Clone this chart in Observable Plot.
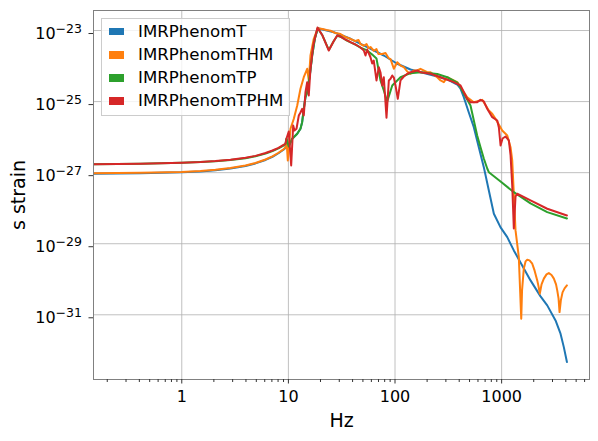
<!DOCTYPE html>
<html>
<head>
<meta charset="utf-8">
<script src="https://cdn.jsdelivr.net/npm/d3@7"></script>
<script src="https://cdn.jsdelivr.net/npm/@observablehq/plot@0.6"></script>
<style>
  body { margin: 0; background: #fff; }
  #wrap { position: relative; width: 598px; height: 441px; font-family: "DejaVu Sans", sans-serif; }
  #legend { position: absolute; left: 101px; top: 18px; width: 189px; height: 98px; box-sizing: border-box;
            border: 1px solid #cccccc; background: rgba(255,255,255,0.8); }
  .row { position: absolute; left: 0; height: 20px; font-size: 16.6px; color: #000; white-space: nowrap; }
  .sw { position: absolute; left: 7px; top: 6.25px; width: 15px; height: 7.5px; }
  .lab { position: absolute; left: 36px; top: 0; line-height: 20px; }
</style>
</head>
<body>
<div id="wrap"></div>
<script>
// ---- data ----
const seriesNames = ["IMRPhenomT", "IMRPhenomTHM", "IMRPhenomTP", "IMRPhenomTPHM"];
const seriesColors = ["#1f77b4", "#ff7f0e", "#2ca02c", "#d62728"];

const freqT = [0.149, 0.41, 1.0, 1.5, 2.07, 2.86, 3.96, 4.91, 6.10, 7.09, 8.07, 8.99, 9.39, 9.60, 10.08, 10.86, 12.10, 12.98, 13.46, 13.94, 14.46, 15.00, 15.87, 16.71, 17.69, 18.87, 26.66, 38.27, 54.83, 78.5, 104.9, 139.8, 186.3, 248.9, 308.9, 383.3, 411.4, 441.6, 492.2, 548.3, 610.7, 680.5, 758.6, 845.6, 977.2, 1129, 1301, 1503, 1866, 2317, 2677, 3203, 3568, 3831, 4096];
const strainT = [9.31e-28, 9.62e-28, 1.02e-27, 1.08e-27, 1.17e-27, 1.31e-27, 1.54e-27, 1.82e-27, 2.28e-27, 2.80e-27, 3.52e-27, 4.41e-27, 4.95e-27, 8.59e-27, 5.46e-27, 8.99e-27, 1.24e-26, 1.72e-26, 2.64e-26, 6.27e-26, 1.33e-25, 1.84e-25, 5.42e-25, 1.98e-24, 5.85e-24, 1.16e-23, 8.95e-24, 5.85e-24, 3.39e-24, 1.98e-24, 1.16e-24, 8.0e-25, 6.38e-25, 5.08e-25, 4.19e-25, 3.03e-25, 2.33e-25, 1.33e-25, 4.93e-26, 1.91e-26, 5.21e-27, 1.43e-27, 3.15e-28, 6.98e-29, 2.88e-29, 1.53e-29, 6.49e-30, 2.98e-30, 9.29e-31, 3.30e-31, 1.84e-31, 6.95e-32, 2.94e-32, 1.23e-32, 4.67e-33];

const freqTHM = [0.149, 0.41, 1.0, 1.5, 2.07, 2.86, 3.96, 4.91, 6.10, 7.09, 8.07, 8.99, 9.39, 9.60, 9.87, 10.46, 11.24, 12.10, 12.98, 13.94, 15.00, 15.53, 16.11, 17.30, 18.87, 20.89, 22.77, 24.83, 27.66, 30.82, 34.34, 38.27, 42.58, 45.46, 47.45, 50.96, 54.03, 56.41, 58.88, 63.2, 67.0, 70.0, 75.8, 81.45, 86.9, 90.8, 97.5, 104.9, 112.6, 121.0, 130.2, 139.8, 149.1, 161.4, 173.4, 200.5, 215.3, 248.9, 267.2, 287.0, 308.9, 331.6, 383.3, 475.6, 548.3, 657.7, 758.6, 816.5, 876.6, 1013, 1129, 1212, 1257, 1301, 1350, 1449, 1527, 1554, 1615, 1676, 1739, 1827, 1937, 2036, 2158, 2219, 2282, 2368, 2488, 2637, 2772, 2938, 3090, 3238, 3323, 3418, 3493, 3592, 3727, 3892, 4096];
const strainTHM = [9.6e-28, 9.9e-28, 1.05e-27, 1.11e-27, 1.21e-27, 1.35e-27, 1.59e-27, 1.87e-27, 2.35e-27, 2.88e-27, 3.63e-27, 4.54e-27, 5.10e-27, 8.59e-27, 2.20e-27, 1.72e-26, 3.28e-26, 7.76e-26, 2.29e-25, 4.85e-25, 8.37e-25, 3.93e-25, 1.98e-24, 5.85e-24, 1.16e-23, 1.10e-23, 1.03e-23, 9.85e-24, 8.48e-24, 7.95e-24, 6.56e-24, 5.76e-24, 5.05e-24, 5.40e-24, 4.16e-24, 3.73e-24, 4.16e-24, 3.21e-24, 3.43e-24, 2.70e-24, 3.01e-24, 2.18e-24, 2.18e-24, 2.32e-24, 1.68e-24, 1.57e-24, 8.37e-25, 1.28e-24, 1.035e-24, 9.29e-25, 7.03e-25, 6.05e-25, 7.50e-25, 7.50e-25, 8.37e-25, 6.71e-25, 6.71e-25, 4.85e-25, 3.93e-25, 3.52e-25, 4.85e-25, 4.38e-25, 3.52e-25, 1.33e-25, 9.62e-26, 1.12e-25, 5.62e-26, 4.54e-26, 3.28e-26, 1.54e-26, 1.11e-26, 5.21e-27, 2.20e-27, 2.60e-28, 2.37e-29, 4.20e-30, 7.76e-32, 4.85e-31, 2.02e-30, 3.18e-30, 3.55e-30, 3.39e-30, 2.74e-30, 1.77e-30, 9.29e-31, 6.30e-31, 3.93e-31, 7.16e-31, 1.04e-30, 1.37e-30, 1.49e-30, 1.32e-30, 1.04e-30, 7.16e-31, 4.85e-31, 2.89e-31, 1.19e-31, 2.54e-31, 4.27e-31, 5.53e-31, 6.71e-31];

const freqTP = [0.149, 0.41, 1.0, 1.5, 2.07, 2.86, 3.96, 4.91, 6.10, 7.09, 8.07, 8.99, 9.39, 9.60, 10.08, 10.86, 12.10, 12.98, 13.46, 13.94, 14.46, 15.00, 15.87, 16.71, 17.69, 18.87, 20.89, 23.93, 26.5, 28.70, 30.82, 34.34, 38.27, 42.58, 47.45, 54.83, 61.1, 67.0, 73.1, 78.5, 84.5, 94.2, 112.6, 139.8, 173.4, 248.9, 308.9, 383.3, 411.4, 441.6, 510.5, 589.7, 633.9, 680.5, 732.5, 758.6, 977.2, 1301, 1866, 2677, 4096];
const strainTP = [1.73e-27, 1.78e-27, 1.89e-27, 1.98e-27, 2.09e-27, 2.27e-27, 2.55e-27, 2.88e-27, 3.44e-27, 4.06e-27, 4.83e-27, 5.80e-27, 6.40e-27, 9.2e-27, 5.46e-27, 8.99e-27, 1.24e-26, 1.72e-26, 2.64e-26, 6.27e-26, 1.33e-25, 1.84e-25, 5.42e-25, 1.98e-24, 5.85e-24, 1.16e-23, 7.23e-24, 2.85e-24, 4.91e-24, 7.1e-24, 6.7e-24, 5.5e-24, 4.65e-24, 4.0e-24, 3.3e-24, 2.75e-24, 2.1e-24, 1.63e-24, 3.93e-25, 2.05e-25, 1.01e-25, 2.84e-25, 4.85e-25, 6.30e-25, 6.71e-25, 5.97e-25, 4.85e-25, 3.44e-25, 2.54e-25, 1.69e-25, 7.76e-26, 1.11e-26, 5.21e-27, 2.51e-27, 1.31e-27, 1.03e-27, 5.65e-28, 2.82e-28, 1.36e-28, 7.73e-29, 5.15e-29];

const freqTPHM = [0.149, 0.41, 1.0, 1.5, 2.07, 2.86, 3.96, 4.91, 6.10, 7.09, 8.07, 8.99, 9.39, 9.60, 10.08, 10.62, 11.09, 11.41, 11.91, 12.52, 12.98, 13.46, 13.94, 14.46, 15.00, 15.53, 16.11, 17.09, 18.75, 20.89, 23.93, 26.5, 28.70, 30.82, 34.34, 38.27, 42.58, 47.45, 50.96, 52.89, 54.83, 58.88, 61.1, 63.2, 67.0, 70.5, 73.1, 75.8, 78.5, 83.2, 87.5, 90.8, 94.2, 97.5, 101.1, 106.2, 112.6, 121.0, 130.2, 139.8, 161.4, 173.4, 215.3, 267.2, 355.8, 411.4, 475.6, 510.5, 589.7, 633.9, 680.5, 732.5, 816.5, 909.3, 941.9, 977.2, 1020, 1088, 1169, 1213, 1257, 1301, 1350, 1399, 1866, 2677, 4096];
const strainTPHM = [1.73e-27, 1.78e-27, 1.89e-27, 1.99e-27, 2.12e-27, 2.32e-27, 2.62e-27, 2.97e-27, 3.56e-27, 4.21e-27, 5.01e-27, 6.01e-27, 6.62e-27, 9.16e-27, 1.44e-26, 1.60e-27, 2.13e-26, 1.54e-26, 1.72e-26, 4.06e-26, 4.93e-26, 6.27e-26, 4.06e-26, 1.84e-25, 3.52e-25, 1.49e-25, 8.37e-25, 3.78e-24, 1.213e-23, 7.23e-24, 2.74e-24, 4.91e-24, 7.23e-24, 6.78e-24, 5.58e-24, 4.69e-24, 4.04e-24, 3.33e-24, 2.74e-24, 1.98e-24, 2.92e-24, 1.77e-24, 1.18e-24, 1.43e-24, 3.93e-25, 9.29e-25, 6.59e-25, 2.84e-25, 4.85e-25, 3.50e-26, 3.93e-25, 4.38e-25, 5.42e-25, 4.76e-25, 2.84e-25, 1.20e-25, 3.93e-25, 5.08e-25, 6.05e-25, 6.71e-25, 7.50e-25, 6.71e-25, 6.05e-25, 4.85e-25, 3.52e-25, 2.84e-25, 1.20e-25, 9.62e-26, 9.62e-26, 1.12e-25, 1.01e-25, 6.27e-26, 3.64e-26, 2.94e-26, 1.87e-26, 5.82e-27, 9.16e-27, 1.04e-26, 8.05e-27, 3.05e-27, 4.37e-28, 2.69e-29, 2.14e-28, 2.55e-28, 1.65e-28, 9.64e-29, 6.25e-29];

const xTicks = [1, 10, 100, 1000];
const xTickLabels = ["1", "10", "100", "1000"];
const yTicks = [1e-23, 1e-25, 1e-27, 1e-29, 1e-31];
const yTickExponents = ["−23", "−25", "−27", "−29", "−31"];
const xLabel = "Hz";
const yLabel = "s strain";

// ---- build ----
const freqs = [freqT, freqTHM, freqTP, freqTPHM];
const strains = [strainT, strainTHM, strainTP, strainTPHM];
const rowsFor = i => freqs[i].map((f, j) => ({f, h: strains[i][j], name: seriesNames[i]}));

const xMinor = [];
for (const dec of [0.1, 1, 10, 100, 1000]) for (let k = 2; k <= 9; k++) {
  const v = +(k * dec).toPrecision(3);
  if (v > 0.1486 && v < 6670) xMinor.push(v);
}

const gridStyle = {stroke: "#b0b0b0", strokeOpacity: 1, strokeWidth: 0.8};

const plot = Plot.plot({
  width: 598, height: 441,
  marginLeft: 93, marginRight: 9, marginTop: 10, marginBottom: 62,
  style: {fontFamily: '"DejaVu Sans", sans-serif', fontSize: "16px", background: "#fff", color: "#000", overflow: "visible"},
  x: {type: "log", domain: [0.1486, 6670]},
  y: {type: "log", domain: [1.51e-33, 3.66e-23]},
  marks: [
    Plot.gridX(xTicks, gridStyle),
    Plot.gridY(yTicks, gridStyle),
    ...[0, 1, 2, 3].map(i => Plot.line(rowsFor(i), {x: "f", y: "h", stroke: seriesColors[i], strokeWidth: 2, strokeLinejoin: "round", clip: true})),
    Plot.frame({stroke: "#808080", strokeWidth: 1}),
    Plot.axisX(xMinor, {tickSize: 3, tickFormat: () => "", stroke: "#333", label: null}),
    Plot.axisX(xTicks, {tickSize: 4.5, tickPadding: 7, stroke: "#333", fill: "#000", fontSize: 16, label: null,
      tickFormat: d => xTickLabels[xTicks.indexOf(d)]}),
    Plot.axisY(yTicks, {tickSize: 4.5, tickPadding: 7, stroke: "#333", fill: "#000", fontSize: 16, label: null, dy: 3,
      tickFormat: d => "10^" + yTickExponents[yTicks.indexOf(d)]}),
    Plot.text([xLabel], {frameAnchor: "bottom", lineAnchor: "middle", textAnchor: "middle", dy: 41, fontSize: 19, text: d => d}),
    Plot.text([yLabel], {frameAnchor: "left", lineAnchor: "middle", textAnchor: "middle", rotate: -90, dx: -75, fontSize: 19, text: d => d})
  ]
});

// superscript exponents on y tick labels
d3.select(plot).selectAll("text").each(function () {
  const t = this.textContent;
  if (t.startsWith("10^")) {
    const e = t.slice(3);
    this.textContent = "10";
    d3.select(this).append("tspan").attr("dy", -6).attr("font-size", 12.5).text(e);
  }
});

const wrap = document.getElementById("wrap");
wrap.appendChild(plot);

// legend
const legend = document.createElement("div");
legend.id = "legend";
const rowTops = [2.5, 25.8, 49.2, 72.2];
seriesNames.forEach((n, i) => {
  const r = document.createElement("div");
  r.className = "row";
  r.style.top = rowTops[i] + "px";
  r.innerHTML = `<div class="sw" style="background:${seriesColors[i]}"></div><span class="lab">${n}</span>`;
  legend.appendChild(r);
});
wrap.appendChild(legend);
</script>
</body>
</html>
